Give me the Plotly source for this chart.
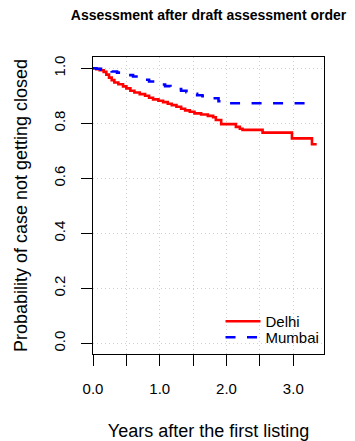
import plotly.graph_objects as go

delhi_t = [0, 0.05, 0.10, 0.16, 0.20, 0.24, 0.28, 0.32, 0.38, 0.45, 0.50, 0.56, 0.62, 0.70, 0.78,
           0.84, 0.90, 0.98, 1.05, 1.12, 1.18, 1.25, 1.32, 1.38, 1.45, 1.52, 1.62, 1.72, 1.80, 1.84,
           1.92, 2.14, 2.20, 2.24, 2.54, 2.98, 3.28, 3.35]
delhi_s = [1.0, 0.997, 0.993, 0.987, 0.977, 0.966, 0.957, 0.948, 0.942, 0.934, 0.927, 0.918, 0.912,
           0.906, 0.900, 0.893, 0.887, 0.882, 0.877, 0.871, 0.866, 0.860, 0.853, 0.847, 0.842, 0.836,
           0.832, 0.827, 0.822, 0.812, 0.797, 0.787, 0.780, 0.776, 0.766, 0.745, 0.724, 0.724]

mumbai_t = [0, 0.05, 0.12, 0.20, 0.28, 0.36, 0.44, 0.52, 0.60, 0.68, 0.76, 0.84, 0.92, 1.00,
            1.08, 1.16, 1.24, 1.32, 1.40, 1.48, 1.56, 1.64, 1.72, 1.80, 1.88, 1.91, 3.20]
mumbai_s = [1.0, 0.998, 0.995, 0.991, 0.988, 0.984, 0.980, 0.975, 0.970, 0.964, 0.958, 0.952,
            0.947, 0.941, 0.935, 0.930, 0.924, 0.918, 0.913, 0.907, 0.902, 0.898, 0.895, 0.891,
            0.880, 0.873, 0.873]

x_tickvals = [0, 0.5, 1.0, 1.5, 2.0, 2.5, 3.0]
x_ticktext = ["0.0", "", "1.0", "", "2.0", "", "3.0"]
y_tickvals = [0.0, 0.2, 0.4, 0.6, 0.8, 1.0]
y_ticktext = ["0.0", "0.2", "0.4", "0.6", "0.8", "1.0"]

FONT = "Liberation Sans, Arial, sans-serif"

fig = go.Figure()
fig.add_trace(go.Scatter(x=delhi_t, y=delhi_s, mode="lines", name="Delhi", legend="legend",
                         line=dict(color="#ff0000", width=2.6, shape="hv")))
fig.add_trace(go.Scatter(x=mumbai_t, y=mumbai_s, mode="lines", name="Mumbai", legend="legend2",
                         line=dict(color="#0000ff", width=2.6, shape="hv", dash="10px,11.5px")))

leg_common = dict(xanchor="left", yanchor="top", bgcolor="rgba(0,0,0,0)", borderwidth=0,
                  itemwidth=35, font=dict(size=15, color="black"))

fig.update_layout(
    width=355, height=441,
    margin=dict(l=93, r=31, t=57, b=87),
    paper_bgcolor="white", plot_bgcolor="white",
    font=dict(family=FONT, size=15, color="black"),
    title=dict(text="<b>Assessment after draft assessment order</b>",
               font=dict(size=14, color="black"),
               x=0.5, xref="paper", xanchor="center",
               y=1 - 15 / 441, yref="container", yanchor="middle"),
    showlegend=True,
    legend=dict(x=0.552, y=0.165, **leg_common),
    legend2=dict(x=0.552, y=0.111, **leg_common),
    xaxis=dict(range=[0, 3.46], tickvals=x_tickvals, ticktext=x_ticktext,
               ticks="outside", ticklen=11, tickwidth=1, tickcolor="black",
               ticklabelstandoff=10,
               showline=True, linecolor="black", linewidth=1, mirror=True,
               showgrid=True, gridcolor="#d0d0d0", griddash="1px,3px", gridwidth=1,
               zeroline=False, automargin=False,
               title=dict(text="Years after the first listing", standoff=30)),
    yaxis=dict(range=[-0.039, 1.041], tickvals=y_tickvals, ticktext=y_ticktext,
               tickangle=-90,
               ticks="outside", ticklen=11, tickwidth=1, tickcolor="black",
               ticklabelstandoff=10,
               showline=True, linecolor="black", linewidth=1, mirror=True,
               showgrid=True, gridcolor="#d0d0d0", griddash="1px,3px", gridwidth=1,
               zeroline=False, automargin=False,
               title=dict(text="Probability of case not getting closed", standoff=18)),
)

fig.write_html("out.html", config={"displayModeBar": False},
               post_script="document.body.style.margin='0';")
